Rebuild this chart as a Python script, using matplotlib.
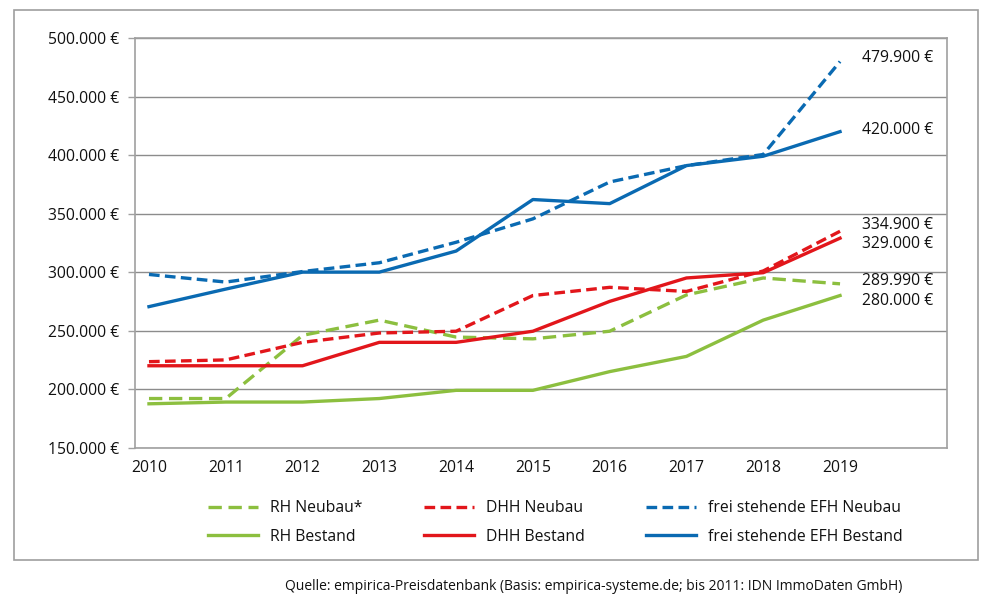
import matplotlib
matplotlib.use("Agg")
import matplotlib.pyplot as plt
from matplotlib.patches import Rectangle
from matplotlib.ticker import FuncFormatter

plt.rcParams['font.family'] = ['Open Sans', 'DejaVu Sans']
plt.rcParams['text.color'] = '#111111'
plt.rcParams['xtick.color'] = '#111111'
plt.rcParams['ytick.color'] = '#111111'

# Daten
jahre = [2010, 2011, 2012, 2013, 2014, 2015, 2016, 2017, 2018, 2019]
rh_neubau = [192000, 192000, 246000, 259000, 244500, 243000, 249500, 280500, 295000, 289990]
rh_bestand = [187500, 189000, 189000, 192000, 199000, 199000, 215000, 228000, 259000, 280000]
dhh_neubau = [223500, 225000, 240000, 248000, 249500, 280000, 287000, 283500, 301000, 334900]
dhh_bestand = [220000, 220000, 220000, 240000, 240000, 249500, 275000, 295000, 299500, 329000]
efh_neubau = [298000, 291500, 300500, 308000, 325500, 345500, 377000, 391000, 400500, 479900]
efh_bestand = [270500, 285500, 300000, 300000, 318000, 362000, 358500, 391000, 399000, 420000]

gruen = '#8CBF3F'
rot = '#E2161B'
blau = '#0A6AB2'

fig = plt.figure(figsize=(9.99, 6.10), dpi=100)

# Rahmen um die ganze Grafik
fig.patches.append(Rectangle((14 / 999, 50 / 610), 964 / 999, 550 / 610,
                             transform=fig.transFigure, fill=False,
                             edgecolor='#9E9E9E', linewidth=1.2))

ax = fig.add_axes([135 / 999, (610 - 447.7) / 610, 812 / 999, 409.7 / 610])

lw = 2.4
l1, = ax.plot(jahre, rh_neubau, color=gruen, lw=lw, dashes=(4, 2), label='RH Neubau*')
l2, = ax.plot(jahre, rh_bestand, color=gruen, lw=lw, label='RH Bestand')
l3, = ax.plot(jahre, dhh_neubau, color=rot, lw=lw, dashes=(3.2, 1.6), label='DHH Neubau')
l4, = ax.plot(jahre, dhh_bestand, color=rot, lw=lw, label='DHH Bestand')
l5, = ax.plot(jahre, efh_neubau, color=blau, lw=lw, dashes=(3.2, 1.6), label='frei stehende EFH Neubau')
l6, = ax.plot(jahre, efh_bestand, color=blau, lw=lw, label='frei stehende EFH Bestand')

ax.set_xlim(2009.818, 2020.393)
ax.set_ylim(150000, 500000)
ax.set_xticks(jahre)
ax.set_yticks(range(150000, 500001, 50000))
ax.yaxis.set_major_formatter(FuncFormatter(lambda v, p: f"{int(v):,} €".replace(',', '.')))
ax.grid(axis='y', color='#8C8C8C', lw=1)
ax.set_axisbelow(True)
for s in ax.spines.values():
    s.set_color('#A0A0A0')
    s.set_linewidth(1.2)
ax.tick_params(axis='y', length=5, width=1, color='#A0A0A0', labelcolor='#111111', pad=6.5, labelsize=11.3)
ax.tick_params(axis='x', length=0, pad=9, labelsize=11.3)

# Endwerte beschriften
enden = [(efh_neubau, 2.9), (efh_bestand, 1.0), (dhh_neubau, 4.3),
         (dhh_bestand, -4.3), (rh_neubau, 2.2), (rh_bestand, -3.6)]
for reihe, dy in enden:
    wert = reihe[-1]
    ax.annotate(f"{wert:,} €".replace(',', '.'), xy=(jahre[-1], wert),
                xytext=(16, dy), textcoords='offset points',
                va='center', ha='left', fontsize=11.3)

fig.legend(handles=[l1, l2, l3, l4, l5, l6], ncol=3, frameon=False,
           loc='upper left', bbox_to_anchor=(194 / 999, 1 - 486 / 610),
           fontsize=11.3, handlelength=3.2, handletextpad=0.75,
           columnspacing=3.9, labelspacing=0.8)

fig.text(902 / 999, 1 - 587 / 610,
         "Quelle: empirica-Preisdatenbank (Basis: empirica-systeme.de; bis 2011: IDN ImmoDaten GmbH)",
         ha='right', va='center', fontsize=10)

fig.savefig("out.png", dpi=100)
